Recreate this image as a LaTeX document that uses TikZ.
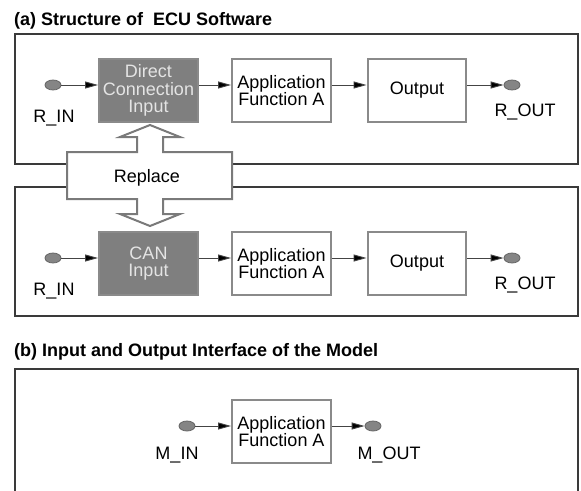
\documentclass[tikz,border=0pt]{standalone}
\usepackage{fontspec}
\setmainfont{Liberation Sans}
\usetikzlibrary{arrows.meta,shapes.geometric}
\definecolor{framec}{HTML}{3A3A3A}
\definecolor{boxc}{HTML}{8A8A8A}
\definecolor{darkfill}{HTML}{7F7F7F}
\definecolor{lighttext}{HTML}{E4E4E4}
\definecolor{portfill}{HTML}{858585}
\definecolor{portline}{HTML}{666666}
\definecolor{connc}{HTML}{444444}
\definecolor{blockc}{HTML}{7A7A7A}
\begin{document}
\begin{tikzpicture}[x=1pt,y=-1pt,
  every node/.style={font=\fontsize{18}{17.5}\selectfont},
  frame/.style={draw=framec, line width=1.4pt},
  fbox/.style={draw=boxc, line width=2.4pt, fill=white, minimum width=98.5pt,
               minimum height=62.5pt, inner sep=0pt, align=center},
  darkbox/.style={fbox, fill=darkfill, text=lighttext},
  port/.style={ellipse, draw=portline, fill=portfill, line width=0.8pt,
               minimum width=16pt, minimum height=10pt, inner sep=0pt},
  conn/.style={draw=connc, line width=0.9pt,
               -{Triangle[length=13pt,width=7pt,fill=black]}},
  lbl/.style={anchor=base, inner sep=0pt},
  title/.style={anchor=base west, inner sep=0pt, font=\fontsize{18}{20}\selectfont\bfseries},
  blockarrow/.style={draw=blockc, fill=white, line width=2pt, line join=miter}]
\useasboundingbox (0,0) rectangle (581,490);

% ---------- (a) ----------
\node[title] (ta) at (14,25) {(a) Structure of\ \ ECU Software};
\draw[frame] (15,34) rectangle (578,164);
\draw[frame] (15,187) rectangle (578,316);

% upper chain
\node[port] (ci1) at (53,85) {};
\node[darkbox] (dci) at (148.5,90.5) {Direct\\Connection\\Input};
\node[fbox] (app1) at (281.5,90.5) {Application\\Function A};
\node[fbox] (out1) at (417,90.5) {Output};
\node[port] (co1) at (512,85) {};
\node[lbl] (lin1) at (54,122) {R\_IN};
\node[lbl] (lout1) at (525,116) {R\_OUT};
\draw[conn] (ci1.east) -- (ci1.east -| dci.west);
\draw[conn] (dci.east |- ci1) -- (app1.west |- ci1);
\draw[conn] (app1.east |- ci1) -- (out1.west |- ci1);
\draw[conn] (out1.east |- co1) -- (co1.west);

% lower chain
\node[port] (ci2) at (53,258) {};
\node[darkbox] (can) at (148.5,263.5) {CAN\\Input};
\node[fbox] (app2) at (281.5,263.5) {Application\\Function A};
\node[fbox] (out2) at (417,263.5) {Output};
\node[port] (co2) at (512,258) {};
\node[lbl] (lin2) at (54,295) {R\_IN};
\node[lbl] (lout2) at (525,289) {R\_OUT};
\draw[conn] (ci2.east) -- (ci2.east -| can.west);
\draw[conn] (can.east |- ci2) -- (app2.west |- ci2);
\draw[conn] (app2.east |- ci2) -- (out2.west |- ci2);
\draw[conn] (out2.east |- co2) -- (co2.west);

% double-headed replace arrow
\draw[blockarrow] (67,152) -- (137,152) -- (137,137) -- (120,137) -- (150,125)
  -- (180,137) -- (163,137) -- (163,152) -- (232,152) -- (232,199) -- (163,199)
  -- (163,214) -- (180,214) -- (150,226) -- (120,214) -- (137,214) -- (137,199)
  -- (67,199) -- cycle;
\node[lbl] (rep) at (147,182) {Replace};

% ---------- (b) ----------
\node[title] (tb) at (14,356) {(b) Input and Output Interface of the Model};
\draw[frame] (15,491) -- (15,369) -- (578,369) -- (578,491);
\node[port] (mi) at (187,426) {};
\node[fbox] (app3) at (281.5,431.5) {Application\\Function A};
\node[port] (mo) at (373,426) {};
\node[lbl] (lmi) at (177,459) {M\_IN};
\node[lbl] (lmo) at (389,459) {M\_OUT};
\draw[conn] (mi.east) -- (mi.east -| app3.west);
\draw[conn] (app3.east |- mo) -- (mo.west);
\end{tikzpicture}
\end{document}
